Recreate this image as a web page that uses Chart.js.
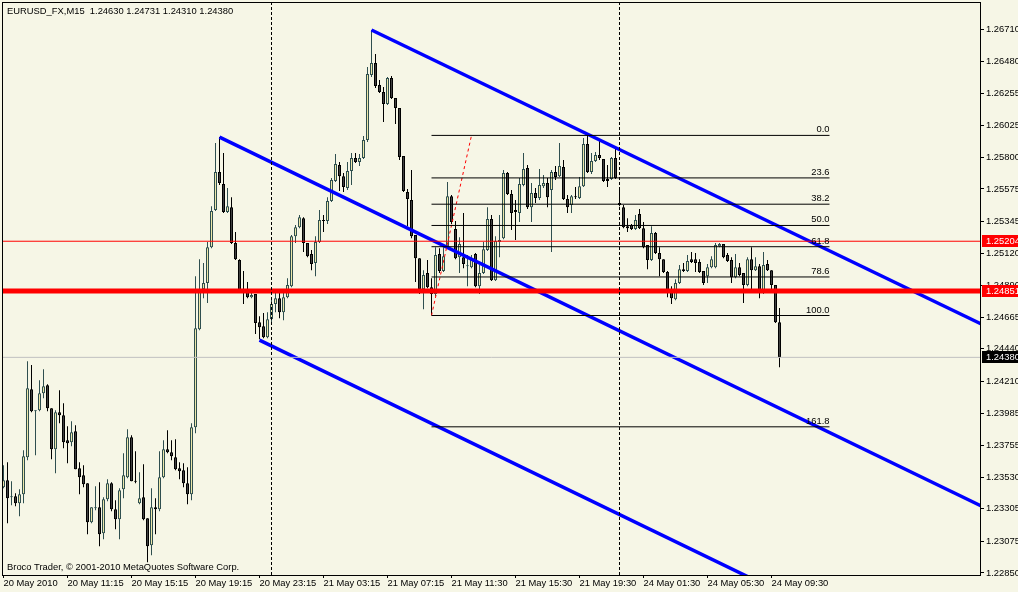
<!DOCTYPE html>
<html>
<head>
<meta charset="utf-8">
<title>EURUSD M15</title>
<script src="https://cdn.jsdelivr.net/npm/chart.js@4.4.1/dist/chart.umd.min.js"></script>
<style>
  html, body { margin: 0; padding: 0; background: #F6F6E6; }
  #wrap { width: 1018px; height: 592px; }
</style>
</head>
<body>
<div id="wrap"><canvas id="myChart" width="1018" height="592"></canvas></div>
<script>
// texts
const symbolTitle = "EURUSD_FX,M15  1.24630 1.24731 1.24310 1.24380";
const copyright = "Broco Trader, \u00a9 2001-2010 MetaQuotes Software Corp.";

// M15 candles, bar 0 = 20 May 2010 07:15
const opens = [
  1.23458,1.23508,1.23387,1.23394,1.23345,1.23409,1.23671,1.24154,1.23998,1.24005,
  1.24126,1.24183,1.24019,1.23728,1.23991,1.23970,1.23792,1.23778,1.23856,1.23593,
  1.23544,1.23487,1.23210,1.23309,1.23316,1.23132,1.23373,1.23487,1.23302,1.23231,
  1.23444,1.23529,1.23813,1.23501,1.23345,1.23387,1.23238,1.23047,1.23316,1.23302,
  1.23529,1.23728,1.23707,1.23671,1.23593,1.23579,1.23487,1.23409,1.23884,1.24580,
  1.24864,1.24907,1.25162,1.25425,1.25695,1.25610,1.25411,1.25446,1.25191,1.25070,
  1.24850,1.24843,1.24807,1.24829,1.24630,1.24601,1.24523,1.24651,1.24758,1.24800,
  1.24701,1.24807,1.24885,1.25240,1.25304,1.25368,1.25191,1.25113,1.25049,1.25198,
  1.25354,1.25347,1.25489,1.25631,1.25745,1.25666,1.25581,1.25702,1.25794,1.25766,
  1.25794,1.25922,1.26384,1.26469,1.26313,1.26263,1.26178,1.26362,1.26220,1.26149,
  1.25808,1.25553,1.25496,1.25248,1.25084,1.24864,1.24978,1.24878,1.24829,1.25113,
  1.24992,1.25169,1.25524,1.25290,1.25091,1.25091,1.25027,1.25020,1.25113,1.24885,
  1.24978,1.25141,1.25361,1.24928,1.25198,1.25226,1.25688,1.25539,1.25425,1.25404,
  1.25603,1.25723,1.25446,1.25546,1.25510,1.25595,1.25617,1.25567,1.25695,1.25666,
  1.25730,1.25503,1.25461,1.25524,1.25510,1.25595,1.25894,1.25695,1.25773,1.25816,
  1.25787,1.25645,1.25645,1.25794,1.25475,1.25446,1.25311,1.25319,1.25290,1.25397,
  1.25297,1.25177,1.25070,1.25262,1.25120,1.25077,1.24985,1.24843,1.24793,1.24907,
  1.25006,1.24992,1.25077,1.25077,1.25056,1.24992,1.24956,1.25020,1.25020,1.25169,
  1.25184,1.25106,1.25070,1.24949,1.25020,1.24978,1.24893,1.25077,1.24999,1.25027,
  1.24836,1.25042,1.24999,1.24893,1.24630
];
const highs = [
  1.23615,1.23636,1.23501,1.23416,1.23444,1.23721,1.24353,1.24325,1.24005,1.24218,
  1.24296,1.24190,1.24019,1.24005,1.24147,1.24055,1.23891,1.23927,1.23899,1.23636,
  1.23615,1.23487,1.23316,1.23465,1.23494,1.23387,1.23515,1.23494,1.23366,1.23451,
  1.23700,1.23870,1.23828,1.23714,1.23565,1.23622,1.23238,1.23451,1.23380,1.23714,
  1.23792,1.23863,1.23792,1.23799,1.23636,1.23629,1.23600,1.23913,1.24956,1.25077,
  1.25049,1.25198,1.25453,1.25901,1.25943,1.25830,1.25581,1.25517,1.25269,1.25077,
  1.24992,1.24914,1.24850,1.24829,1.24672,1.24694,1.24701,1.24800,1.24843,1.24836,
  1.24843,1.24942,1.25248,1.25319,1.25390,1.25375,1.25191,1.25141,1.25240,1.25425,
  1.25390,1.25517,1.25652,1.25823,1.25766,1.25688,1.25766,1.25830,1.25830,1.25823,
  1.25950,1.26440,1.26703,1.26533,1.26348,1.26298,1.26369,1.26376,1.26220,1.26149,
  1.25808,1.25574,1.25709,1.25248,1.25084,1.24999,1.25070,1.24942,1.25162,1.25155,
  1.25162,1.25624,1.25532,1.25347,1.25233,1.25404,1.25106,1.25106,1.25120,1.25035,
  1.25198,1.25446,1.25390,1.25240,1.25390,1.25709,1.25695,1.25567,1.25496,1.25652,
  1.25830,1.25745,1.25617,1.25581,1.25716,1.25674,1.25652,1.25709,1.25737,1.25901,
  1.25780,1.25532,1.25532,1.25588,1.25659,1.25936,1.25958,1.25830,1.25837,1.25922,
  1.25787,1.25745,1.25801,1.25865,1.25581,1.25461,1.25368,1.25326,1.25390,1.25432,
  1.25340,1.25177,1.25311,1.25269,1.25162,1.25077,1.24992,1.24885,1.24935,1.25035,
  1.25049,1.25106,1.25127,1.25120,1.25077,1.24992,1.25042,1.25098,1.25191,1.25191,
  1.25184,1.25120,1.25091,1.25113,1.25049,1.24978,1.25091,1.25162,1.25091,1.25042,
  1.25127,1.25070,1.24999,1.24893,1.24731
];
const lows = [
  1.23451,1.23203,1.23331,1.23323,1.23252,1.23345,1.23650,1.23991,1.23686,1.23998,
  1.24090,1.23998,1.23657,1.23558,1.23913,1.23735,1.23629,1.23749,1.23586,1.23409,
  1.23458,1.23125,1.23203,1.23295,1.23039,1.23089,1.23359,1.23288,1.23160,1.23089,
  1.23380,1.23522,1.23501,1.23487,1.23338,1.23224,1.22926,1.22976,1.23125,1.23288,
  1.23522,1.23700,1.23650,1.23579,1.23515,1.23458,1.23338,1.23366,1.23842,1.24573,
  1.24800,1.24765,1.25155,1.25418,1.25603,1.25404,1.25404,1.25184,1.25070,1.24836,
  1.24758,1.24800,1.24800,1.24545,1.24509,1.24516,1.24516,1.24623,1.24701,1.24658,
  1.24644,1.24800,1.24878,1.25191,1.25297,1.25127,1.25091,1.24999,1.24956,1.25191,
  1.25269,1.25326,1.25482,1.25624,1.25560,1.25553,1.25567,1.25603,1.25759,1.25737,
  1.25787,1.25908,1.26369,1.26291,1.26256,1.26050,1.26171,1.26213,1.26036,1.25780,
  1.25553,1.25311,1.25226,1.24914,1.24829,1.24722,1.24871,1.24680,1.24814,1.24978,
  1.24985,1.25155,1.25326,1.25077,1.24978,1.25013,1.24885,1.25013,1.24878,1.24829,
  1.24971,1.25134,1.24921,1.24921,1.25091,1.25219,1.25532,1.25283,1.25212,1.25340,
  1.25595,1.25432,1.25340,1.25475,1.25496,1.25581,1.25446,1.25127,1.25638,1.25659,
  1.25496,1.25404,1.25404,1.25503,1.25503,1.25588,1.25688,1.25681,1.25766,1.25780,
  1.25624,1.25588,1.25638,1.25645,1.25453,1.25297,1.25269,1.25283,1.25283,1.25290,
  1.25155,1.25006,1.25063,1.25113,1.24956,1.24978,1.24807,1.24758,1.24786,1.24900,
  1.24985,1.24985,1.25049,1.24985,1.24978,1.24893,1.24907,1.25013,1.25013,1.25162,
  1.25084,1.25056,1.24907,1.24942,1.24956,1.24765,1.24885,1.24864,1.24992,1.24800,
  1.24829,1.24992,1.24836,1.24623,1.24310
];
const closes = [
  1.23508,1.23380,1.23394,1.23345,1.23409,1.23678,1.24161,1.23998,1.24005,1.24126,
  1.24175,1.24019,1.23728,1.23991,1.23970,1.23778,1.23771,1.23849,1.23586,1.23529,
  1.23480,1.23210,1.23316,1.23309,1.23125,1.23373,1.23487,1.23302,1.23231,1.23437,
  1.23544,1.23813,1.23501,1.23497,1.23380,1.23231,1.23039,1.23316,1.23302,1.23529,
  1.23728,1.23707,1.23678,1.23586,1.23572,1.23487,1.23409,1.23884,1.24587,1.24864,
  1.24907,1.25162,1.25418,1.25695,1.25617,1.25411,1.25453,1.25191,1.25077,1.24843,
  1.24843,1.24807,1.24822,1.24623,1.24594,1.24523,1.24651,1.24758,1.24800,1.24701,
  1.24807,1.24893,1.25240,1.25304,1.25375,1.25191,1.25098,1.25042,1.25198,1.25354,
  1.25347,1.25489,1.25638,1.25752,1.25666,1.25588,1.25702,1.25794,1.25766,1.25794,
  1.25922,1.26391,1.26469,1.26305,1.26263,1.26178,1.26362,1.26220,1.26149,1.25801,
  1.25560,1.25503,1.25240,1.25084,1.24864,1.24964,1.24878,1.24829,1.25106,1.24992,
  1.25098,1.25524,1.25340,1.25084,1.25184,1.25042,1.25027,1.25084,1.24885,1.24978,
  1.25148,1.25361,1.24928,1.25205,1.25212,1.25688,1.25539,1.25404,1.25411,1.25610,
  1.25716,1.25446,1.25546,1.25510,1.25603,1.25617,1.25517,1.25695,1.25659,1.25737,
  1.25503,1.25446,1.25524,1.25517,1.25595,1.25894,1.25695,1.25773,1.25816,1.25794,
  1.25631,1.25631,1.25794,1.25652,1.25461,1.25304,1.25297,1.25290,1.25354,1.25297,
  1.25162,1.25070,1.25262,1.25120,1.25077,1.24985,1.24843,1.24800,1.24907,1.25006,
  1.24992,1.25063,1.25056,1.25049,1.24985,1.24907,1.25020,1.25077,1.25177,1.25184,
  1.25091,1.25063,1.24949,1.25020,1.24964,1.24893,1.25077,1.24999,1.25027,1.24836,
  1.25035,1.24999,1.24893,1.24630,1.24380
];

// axis ticks
const timeTicks = [0, 16, 32, 48, 64, 80, 96, 112, 128, 144, 160, 176, 192];
const timeLabels = ["20 May 2010", "20 May 11:15", "20 May 15:15", "20 May 19:15", "20 May 23:15",
  "21 May 03:15", "21 May 07:15", "21 May 11:30", "21 May 15:30", "21 May 19:30",
  "24 May 01:30", "24 May 05:30", "24 May 09:30"];
const priceTicks = [1.26710, 1.26480, 1.26255, 1.26025, 1.25800, 1.25575, 1.25345, 1.25120, 1.24890,
  1.24665, 1.24440, 1.24210, 1.23985, 1.23755, 1.23530, 1.23305, 1.23075, 1.22850];

// objects on the chart
const fibHigh = 1.25955;
const fibLow = 1.24677;
const fibRatios = [0, 23.6, 38.2, 50, 61.8, 78.6, 100, 161.8];
const fibBars = [107, 206.5];
const fibTrend = [[107, 1.24677], [117, 1.25955]];
const redLevel = 1.25204;
const supportLevel = 1.24851;
const lastPrice = 1.24380;
const daySeparators = [67, 154];
const channelTop = [[92, 1.26703], [244, 1.24623]];
const channelMid = [[54, 1.25943], [244, 1.23331]];
const channelLow = [[64, 1.24502], [167, 1.23086]];

const xMin = -0.375, xMax = 244.375;
const yMin = 1.228357, yMax = 1.268945;
const bg = "#F6F6E6";
const FONT = "Liberation Sans";
const FS = 9.4;

function ray(pts) {
  const [a, b] = pts;
  const k = (b[1] - a[1]) / (b[0] - a[0]);
  const xe = xMax + 3;
  return [{x: a[0], y: a[1]}, {x: xe, y: a[1] + k * (xe - a[0])}];
}

function lineSet(data, color, width, dash) {
  return {
    type: "line",
    data: data,
    borderColor: color,
    borderWidth: width,
    borderDash: dash || [],
    pointRadius: 0,
    fill: false,
    tension: 0,
    clip: 0,
    order: 0
  };
}

const up = closes.map((c, i) => c >= opens[i]);

const datasets = [
  {
    type: "bar",
    data: highs.map((h, i) => ({x: i, y: [lows[i], h]})),
    backgroundColor: up.map(u => u ? "#2F4F4F" : "#000000"),
    borderWidth: 0,
    barThickness: 1,
    grouped: false,
    inflateAmount: 0,
    order: 3
  },
  {
    type: "bar",
    data: opens.map((o, i) => ({x: i, y: [o, closes[i]]})),
    backgroundColor: up.map(u => u ? "#EEE8AA" : "#404040"),
    borderColor: up.map(u => u ? "#2F4F4F" : "#000000"),
    borderWidth: 1,
    borderSkipped: false,
    barThickness: 3,
    minBarLength: 1,
    grouped: false,
    inflateAmount: 0,
    order: 2
  },
  lineSet([{x: xMin, y: lastPrice}, {x: xMax, y: lastPrice}], "#C0C0C0", 1),
  lineSet([{x: xMin, y: redLevel}, {x: xMax, y: redLevel}], "#FF0000", 1)
];

daySeparators.forEach(b => {
  datasets.push(lineSet([{x: b, y: yMin}, {x: b, y: yMax}], "#000000", 1, [3, 2]));
});
fibRatios.forEach(r => {
  const v = fibHigh - (fibHigh - fibLow) * r / 100;
  datasets.push(lineSet([{x: fibBars[0], y: v}, {x: fibBars[1], y: v}], "#000000", 1));
});
datasets.push(lineSet(fibTrend.map(p => ({x: p[0], y: p[1]})), "#FF0000", 1, [3, 3]));
datasets.push(lineSet([{x: xMin, y: supportLevel}, {x: xMax, y: supportLevel}], "#FF0000", 5));
datasets.push(lineSet(ray(channelTop), "#0000FF", 3.5));
datasets.push(lineSet(ray(channelMid), "#0000FF", 3.5));
datasets.push(lineSet(ray(channelLow), "#0000FF", 3.5));

const decor = {
  id: "decor",
  beforeDraw(chart) {
    const c = chart.ctx;
    c.save();
    c.fillStyle = bg;
    c.fillRect(0, 0, chart.width, chart.height);
    c.restore();
  },
  afterDraw(chart) {
    const c = chart.ctx, a = chart.chartArea;
    const xs = chart.scales.x, ys = chart.scales.y;
    c.save();
    c.strokeStyle = "#000";
    c.lineWidth = 1;
    c.strokeRect(a.left + 0.5, a.top - 0.5, a.right - a.left - 1, a.bottom - a.top + 1);

    c.font = FS + "px '" + FONT + "'";
    c.fillStyle = "#000";
    c.textBaseline = "middle";
    c.textAlign = "left";
    c.fillText(symbolTitle, 7, 11);
    c.fillText(copyright, 7, 567);

    // fibo level texts
    c.textAlign = "right";
    c.textBaseline = "alphabetic";
    const xr = xs.getPixelForValue(fibBars[1]);
    fibRatios.forEach(r => {
      const v = fibHigh - (fibHigh - fibLow) * r / 100;
      c.fillText(r.toFixed(1), xr, ys.getPixelForValue(v) - 3);
    });

    // price boxes on the scale
    c.textAlign = "left";
    c.textBaseline = "middle";
    [[redLevel, "#FF0000"], [supportLevel, "#FF0000"], [lastPrice, "#000000"]].forEach(([v, col]) => {
      const py = Math.round(ys.getPixelForValue(v));
      c.fillStyle = col;
      c.fillRect(a.right + 1, py - 6, chart.width - a.right, 12);
      c.fillStyle = "#FFFFFF";
      c.fillText(v.toFixed(5), a.right + 5, py);
    });
    c.restore();
  }
};

new Chart(document.getElementById("myChart"), {
  type: "bar",
  data: {datasets: datasets},
  options: {
    responsive: false,
    devicePixelRatio: 1,
    animation: false,
    layout: {padding: {left: 2, top: 3, right: 0, bottom: 0}},
    plugins: {legend: {display: false}, tooltip: {enabled: false}},
    scales: {
      x: {
        type: "linear",
        min: xMin,
        max: xMax,
        offset: false,
        afterBuildTicks: s => { s.ticks = timeTicks.map(v => ({value: v})); },
        afterFit: s => { s.height = 17; s.paddingLeft = 0; s.paddingRight = 0; },
        grid: {drawOnChartArea: false, offset: false, tickLength: 3, color: "#000"},
        border: {display: false},
        ticks: {
          autoSkip: false, maxRotation: 0, minRotation: 0, align: "start", padding: 0,
          color: "#000", font: {family: FONT, size: FS},
          callback: v => timeLabels[timeTicks.indexOf(v)]
        }
      },
      y: {
        position: "right",
        min: yMin,
        max: yMax,
        afterBuildTicks: s => { s.ticks = priceTicks.map(v => ({value: v})); },
        afterFit: s => { s.width = 37; s.paddingTop = 0; s.paddingBottom = 0; },
        grid: {drawOnChartArea: false, tickLength: 3, color: "#000"},
        border: {display: false},
        ticks: {
          autoSkip: false, padding: 2, color: "#000",
          font: {family: FONT, size: FS},
          callback: v => v.toFixed(5)
        }
      }
    }
  },
  plugins: [decor]
});
</script>
</body>
</html>
